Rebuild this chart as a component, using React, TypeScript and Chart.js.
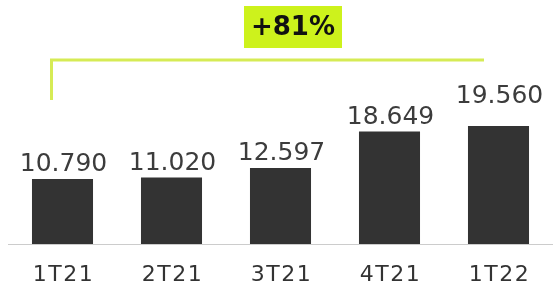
import React, { useEffect, useRef } from "react";
import { Chart, registerables } from "chart.js";

Chart.register(...registerables);

const categories = ["1T21", "2T21", "3T21", "4T21", "1T22"];
const values = [10.79, 11.02, 12.597, 18.649, 19.56];
const valueLabels = ["10.790", "11.020", "12.597", "18.649", "19.560"];
const growthLabel = "+81%";

const FONT = "'DejaVu Sans', Verdana, sans-serif";

const overlayPlugin = {
  id: "overlay",
  afterDatasetsDraw(chart: any) {
    const ctx = chart.ctx;
    const meta = chart.getDatasetMeta(0);
    const xs = chart.scales.x;
    const n = categories.length;
    ctx.save();
    // value labels (last one lifted to clear the bracket area, as in the source)
    ctx.font = `25px ${FONT}`;
    ctx.fillStyle = "#3c3c3c";
    ctx.textAlign = "center";
    ctx.textBaseline = "alphabetic";
    meta.data.forEach((bar: any, i: number) => {
      const gap = i === n - 1 ? 23 : 8;
      ctx.fillText(valueLabels[i], bar.x + 1, bar.y - gap);
    });
    // category labels (letter-spaced)
    ctx.font = `22px ${FONT}`;
    ctx.fillStyle = "#333333";
    (ctx as any).letterSpacing = "1.5px";
    categories.forEach((c, i) => {
      ctx.fillText(c, xs.getPixelForValue(i) + 1, chart.chartArea.bottom + 37);
    });
    (ctx as any).letterSpacing = "0px";
    // bracket
    const x1 = Math.round(xs.getPixelForValue(0) - 12) + 0.5;
    const x2 = Math.round(xs.getPixelForValue(n - 1) - 15);
    const yTop = 60;
    const yBottom = 100;
    ctx.strokeStyle = "#d6eb55";
    ctx.lineWidth = 3;
    ctx.beginPath();
    ctx.moveTo(x1, yBottom);
    ctx.lineTo(x1, yTop);
    ctx.lineTo(x2, yTop);
    ctx.stroke();
    // box
    const bx = 244, by = 6, bw = 98, bh = 42;
    ctx.fillStyle = "#cdf21c";
    ctx.fillRect(bx, by, bw, bh);
    ctx.fillStyle = "#111111";
    ctx.font = `bold 26px ${FONT}`;
    ctx.textAlign = "center";
    ctx.textBaseline = "middle";
    ctx.fillText(growthLabel, bx + bw / 2, by + bh / 2 + 1);
    ctx.restore();
  },
};

export default function App() {
  const ref = useRef<HTMLCanvasElement | null>(null);
  useEffect(() => {
    document.body.style.margin = "0";
    const chart = new Chart(ref.current as HTMLCanvasElement, {
      type: "bar",
      data: {
        labels: categories,
        datasets: [
          {
            data: values,
            backgroundColor: "#333333",
            barPercentage: 0.56,
            categoryPercentage: 1,
          },
        ],
      },
      options: {
        responsive: false,
        animation: false,
        layout: { padding: { left: 8, right: 0, top: 51, bottom: 0 } },
        plugins: { legend: { display: false }, tooltip: { enabled: false } },
        scales: {
          x: {
            grid: { display: false },
            border: { display: true, color: "#cccccc", width: 1 },
            ticks: { display: false },
            afterFit: (scale: any) => {
              scale.height = 43;
            },
          },
          y: {
            display: false,
            min: 0,
            max: 32,
          },
        },
      },
      plugins: [overlayPlugin],
    });
    return () => chart.destroy();
  }, []);
  return (
    <div style={{ width: 553, height: 287 }}>
      <canvas ref={ref} width={553} height={287} />
    </div>
  );
}
